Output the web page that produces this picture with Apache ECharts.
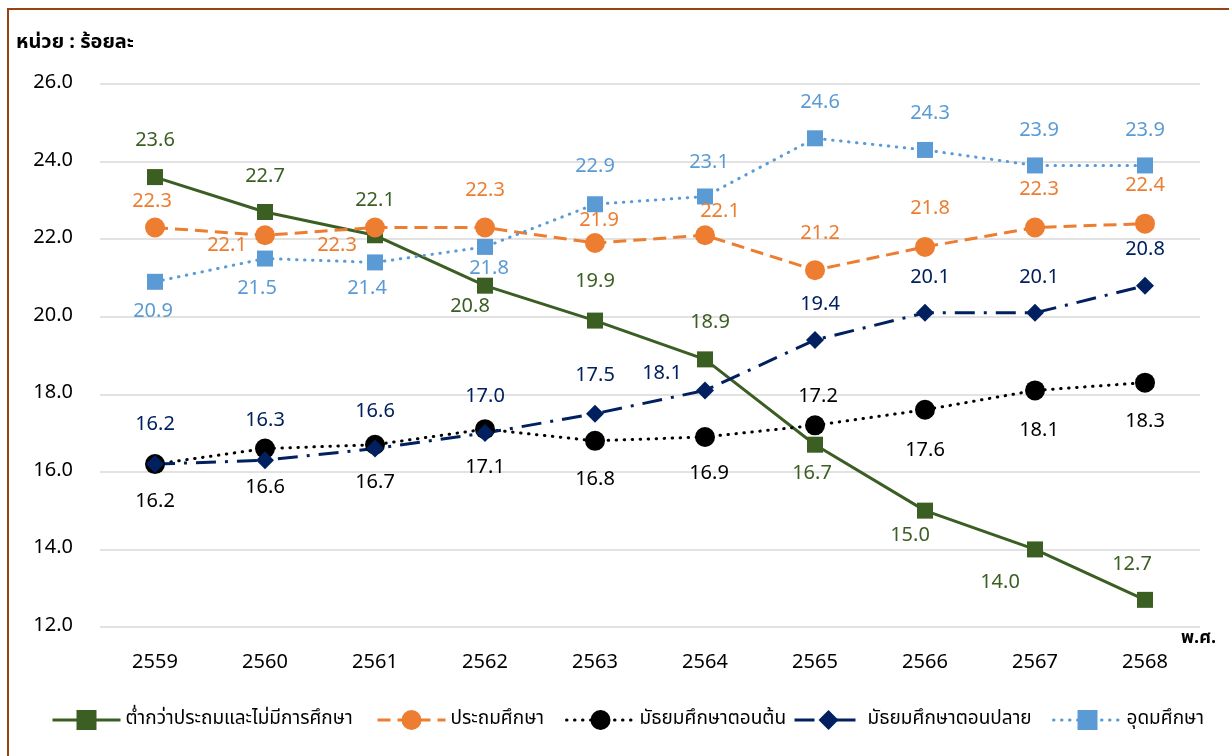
<!DOCTYPE html>
<html>
<head>
<meta charset="utf-8">
<script src="https://cdn.jsdelivr.net/npm/echarts@6/dist/echarts.min.js"></script>
<style>
  html, body { margin: 0; padding: 0; background: #fff; }
  #frame { position: absolute; left: 7px; top: 8px; width: 1400px; height: 900px;
           border-top: 2px solid #954512; border-left: 2px solid #954512; }
  #chart { position: absolute; left: 0; top: 0; width: 1229px; height: 756px; }
</style>
</head>
<body>
<div id="frame"></div>
<div id="chart"></div>
<script>
// ข้อมูล ร้อยละ จำแนกตามระดับการศึกษา
var years = ['2559', '2560', '2561', '2562', '2563', '2564', '2565', '2566', '2567', '2568'];
var seriesNames = ['ต่ำกว่าประถมและไม่มีการศึกษา', 'ประถมศึกษา', 'มัธยมศึกษาตอนต้น', 'มัธยมศึกษาตอนปลาย', 'อุดมศึกษา'];
var belowPrimary = [23.6, 22.7, 22.1, 20.8, 19.9, 18.9, 16.7, 15.0, 14.0, 12.7];
var primary = [22.3, 22.1, 22.3, 22.3, 21.9, 22.1, 21.2, 21.8, 22.3, 22.4];
var lowerSecondary = [16.2, 16.6, 16.7, 17.1, 16.8, 16.9, 17.2, 17.6, 18.1, 18.3];
var upperSecondary = [16.2, 16.3, 16.6, 17.0, 17.5, 18.1, 19.4, 20.1, 20.1, 20.8];
var higherEdu = [20.9, 21.5, 21.4, 21.8, 22.9, 23.1, 24.6, 24.3, 23.9, 23.9];
var yMin = 12, yMax = 26, yStep = 2;

var FONT = 'Tahoma, "Noto Sans Thai", "Noto Sans", "DejaVu Sans", sans-serif';

// ตำแหน่งป้ายตัวเลข (เลื่อนจากจุด)
var offGreen = [[0,-35],[0,-34],[0,-33],[-15,22],[0,-38],[5,-35],[-3,30],[-15,26],[-35,35],[-13,-34]];
var offOrange = [[-3,-25],[-38,12],[-38,19],[0,-36],[4,-21],[15,-22],[5,-35],[5,-37],[4,-37],[0,-37]];
var offBlack = [[0,39],[0,40],[0,39],[0,40],[0,40],[4,38],[3,-27],[0,42],[4,42],[0,40]];
var offNavy = [[0,-38],[0,-38],[0,-36],[0,-35],[0,-37],[-43,-15],[5,-34],[5,-34],[4,-34],[0,-35]];
var offBlue = [[-2,31],[-8,31],[-8,28],[4,23],[0,-36],[4,-33],[5,-34],[5,-35],[4,-33],[0,-33]];

function withLabels(values, offsets) {
    return values.map(function (v, i) {
        return { value: v, label: { offset: offsets[i] } };
    });
}

function makeSeries(name, values, offsets, color, symbol, size, lineType, cap) {
    return {
        name: name,
        type: 'line',
        data: withLabels(values, offsets),
        symbol: symbol,
        symbolSize: size,
        itemStyle: { color: color },
        lineStyle: { color: color, width: 3, type: lineType, cap: cap || 'butt' },
        label: {
            show: true,
            position: 'inside',
            color: color,
            fontFamily: FONT,
            fontSize: 20,
            formatter: function (p) { return p.value.toFixed(1); }
        },
        emphasis: { disabled: true },
        animation: false
    };
}

var chart = echarts.init(document.getElementById('chart'));

var legendLefts = [46, 371, 560, 788, 1047];
var legends = seriesNames.map(function (n, i) {
    return {
        data: [n],
        left: legendLefts[i],
        top: 705,
        itemWidth: 68,
        itemHeight: 25,
        lineStyle: { width: 3 },
        textStyle: { fontFamily: FONT, fontSize: 19, color: '#000' },
        selectedMode: false
    };
});

chart.setOption({
    backgroundColor: 'transparent',
    grid: { left: 100, right: 29, top: 84, bottom: 129 },
    legend: legends,
    graphic: [
        { type: 'text', left: 16, top: 34, style: { text: 'หน่วย : ร้อยละ', font: 'bold 20px ' + FONT, fill: '#000' } },
        { type: 'text', left: 1181, top: 630, style: { text: 'พ.ศ.', font: 'bold 18px ' + FONT, fill: '#000' } }
    ],
    xAxis: {
        type: 'category',
        data: years,
        boundaryGap: true,
        axisLine: { show: false },
        axisTick: { show: false },
        axisLabel: { color: '#000', fontFamily: FONT, fontSize: 20, margin: 27 }
    },
    yAxis: {
        type: 'value',
        min: yMin,
        max: yMax,
        interval: yStep,
        axisLine: { show: false },
        axisTick: { show: false },
        axisLabel: {
            color: '#000', fontFamily: FONT, fontSize: 20, margin: 27,
            formatter: function (v) { return v.toFixed(1); }
        },
        splitLine: { lineStyle: { color: '#d9d9d9', width: 1.5 } }
    },
    series: [
        makeSeries(seriesNames[0], belowPrimary, offGreen, '#3B5E23', 'rect', 16, 'solid'),
        makeSeries(seriesNames[1], primary, offOrange, '#ED7D31', 'circle', 20, [13, 7]),
        makeSeries(seriesNames[2], lowerSecondary, offBlack, '#000000', 'circle', 20, [0.5, 7.5], 'round'),
        makeSeries(seriesNames[3], upperSecondary, offNavy, '#002060', 'diamond', 18, [20, 9, 3, 9]),
        makeSeries(seriesNames[4], higherEdu, offBlue, '#5B9BD5', 'rect', 16, [0.5, 7.5], 'round')
    ]
});
</script>
</body>
</html>
